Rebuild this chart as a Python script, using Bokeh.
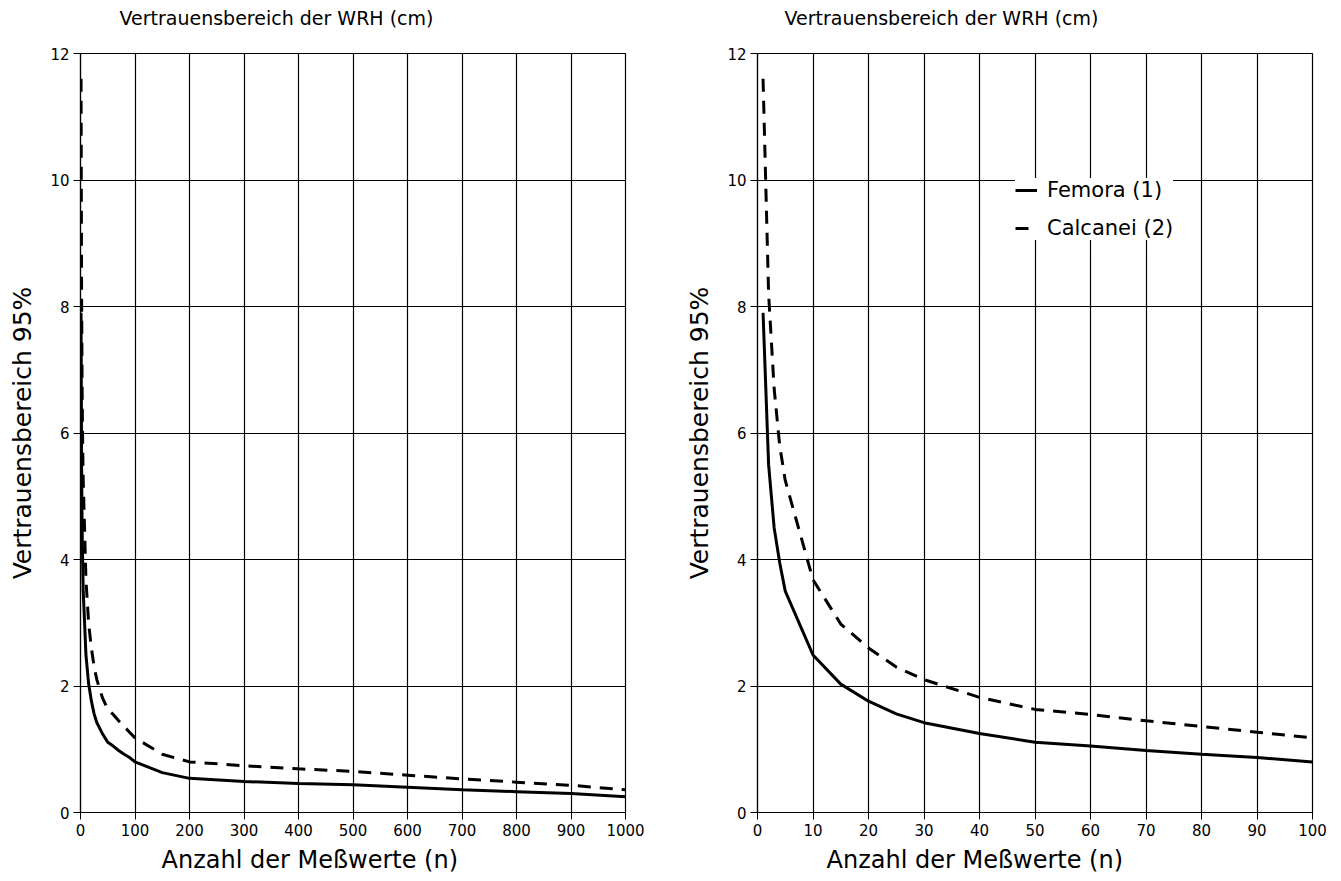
from bokeh.plotting import figure
from bokeh.layouts import row
from bokeh.models import Range1d, FixedTicker, Title, Legend, LegendItem, ColumnDataSource
from bokeh.embed import file_html
from bokeh.resources import INLINE

# Anzahl der Meßwerte (n)
n = [1, 2, 3, 4, 5, 10, 15, 20, 25, 30, 40, 50, 60, 70, 80, 90, 100,
     150, 200, 300, 400, 500, 600, 700, 800, 900, 1000]
# Vertrauensbereich 95% (cm)
femora = [7.9, 5.5, 4.5, 3.95, 3.5, 2.49, 2.03, 1.76, 1.56, 1.42, 1.25, 1.11, 1.05, 0.98, 0.92, 0.87, 0.80,
          0.63, 0.54, 0.49, 0.46, 0.44, 0.40, 0.36, 0.33, 0.30, 0.25]
calcanei = [11.6, 8.2, 6.7, 5.8, 5.25, 3.68, 2.98, 2.6, 2.3, 2.1, 1.82, 1.63, 1.55, 1.45, 1.36, 1.27, 1.18,
            0.92, 0.80, 0.74, 0.69, 0.65, 0.59, 0.53, 0.48, 0.43, 0.36]

x_ticks_left = [0, 100, 200, 300, 400, 500, 600, 700, 800, 900, 1000]
x_ticks_right = [0, 10, 20, 30, 40, 50, 60, 70, 80, 90, 100]
y_ticks = [0, 2, 4, 6, 8, 10, 12]

title_text = "Vertrauensbereich der WRH (cm)"
xlabel_text = "Anzahl der Meßwerte (n)"
ylabel_text = "Vertrauensbereich 95%"
labels = ["Femora (1)", "Calcanei (2)"]

FONT = "DejaVu Sans"

src = ColumnDataSource(data=dict(n=n, femora=femora, calcanei=calcanei))


def make(xmax, xticks, frame_w, bl, br, title_off, xlabel_off, with_legend):
    p = figure(frame_width=frame_w, frame_height=759,
               x_range=Range1d(0, xmax), y_range=Range1d(0, 12),
               output_backend="svg", toolbar_location=None,
               min_border_left=bl, min_border_right=br,
               min_border_top=51, min_border_bottom=60,
               title=None)
    p.background_fill_color = "white"
    p.border_fill_color = "white"
    p.outline_line_color = "black"
    p.outline_line_width = 1.2

    # spacer between frame and title (nearest the frame)
    p.add_layout(Title(text=" ", text_font=FONT, text_font_size="10px",
                       standoff=4, text_color="white"), "above")
    p.add_layout(Title(text=title_text, align="left", vertical_align="top",
                       offset=title_off, text_font=FONT, text_font_size="19px",
                       text_font_style="normal", text_color="black",
                       standoff=12), "above")

    p.add_layout(Title(text=xlabel_text, align="left", offset=xlabel_off,
                       text_font=FONT, text_font_size="24px",
                       text_font_style="normal", text_color="black"), "below")

    p.xaxis.ticker = FixedTicker(ticks=xticks)
    p.yaxis.ticker = FixedTicker(ticks=y_ticks)
    p.xgrid.ticker = FixedTicker(ticks=xticks)
    p.ygrid.ticker = FixedTicker(ticks=y_ticks)
    for g in (p.xgrid, p.ygrid):
        g.grid_line_color = "black"
        g.grid_line_alpha = 1.0
        g.grid_line_width = 1.2
    for ax in (p.xaxis, p.yaxis):
        ax.axis_line_color = "black"
        ax.axis_line_width = 1.2
        ax.major_tick_line_color = "black"
        ax.major_tick_in = 0
        ax.major_tick_out = 7
        ax.minor_tick_line_color = None
        ax.major_label_text_font = FONT
        ax.major_label_text_font_size = "15px"
        ax.major_label_text_color = "black"
        ax.major_label_standoff = 4
    p.yaxis.axis_label = ylabel_text
    p.yaxis.axis_label_text_font = FONT
    p.yaxis.axis_label_text_font_size = "25px"
    p.yaxis.axis_label_text_font_style = "normal"
    p.yaxis.axis_label_text_color = "black"
    p.yaxis.axis_label_standoff = 10

    r1 = p.line(x="n", y="femora", source=src, line_color="black", line_width=3)
    r2 = p.line(x="n", y="calcanei", source=src, line_color="black", line_width=3,
                line_dash="13 9")

    if with_legend:
        leg = Legend(items=[LegendItem(label=labels[0], renderers=[r1]),
                            LegendItem(label=labels[1], renderers=[r2])],
                     location=(258, 572))
        leg.label_text_font = FONT
        leg.label_text_font_size = "21px"
        leg.label_text_color = "black"
        leg.glyph_width = 22
        leg.label_standoff = 10
        leg.spacing = 14
        leg.padding = 14
        leg.border_line_color = None
        leg.background_fill_color = "white"
        leg.background_fill_alpha = 1.0
        p.add_layout(leg, "center")
    return p


p1 = make(1000, x_ticks_left, 545, 80, 40, 39, 81, False)
p2 = make(100, x_ticks_right, 555, 92, 22, 27, 69, True)

layout = row(p1, p2)
open("out.html", "w").write(file_html(layout, INLINE))
